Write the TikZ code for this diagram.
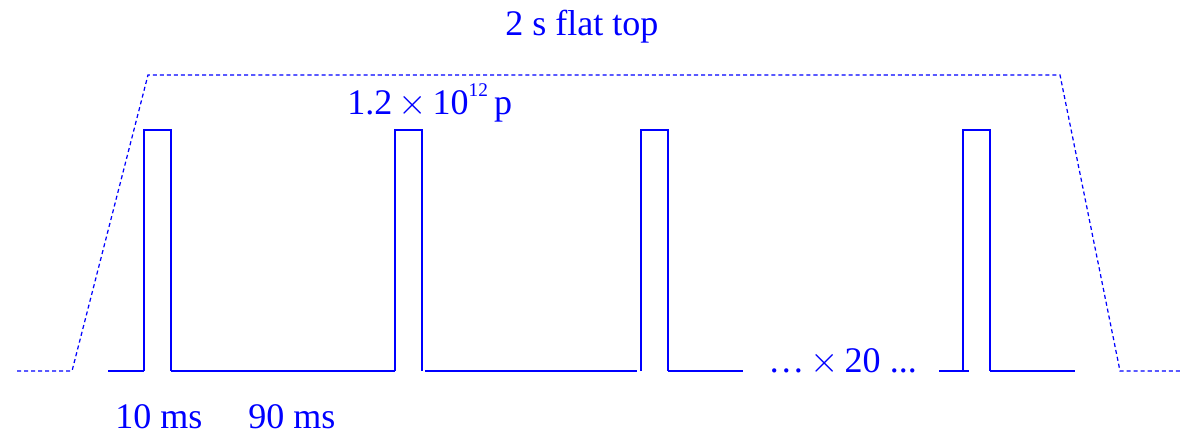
\documentclass[tikz,border=0pt]{standalone}
\usepackage{fontspec}
\setmainfont{Liberation Serif}
\usepackage{tikz}
\usetikzlibrary{positioning, calc}
\definecolor{PulseBlue}{RGB}{0,0,255}

\begin{document}
\begin{tikzpicture}[
  x=0.02cm, y=-0.02cm,
  wave/.style={draw=PulseBlue, line width=0.7pt},
  ramp/.style={draw=PulseBlue, line width=0.7pt, dash pattern=on 2.3pt off 1.7pt},
  lbl/.style={text=PulseBlue, anchor=base west, inner sep=0pt, font=\fontsize{20.5}{24}\selectfont}
]
\useasboundingbox (0,0) rectangle (1185,432);

% spill envelope
\coordinate (envA) at (17,371);
\coordinate (envB) at (72,371);
\coordinate (envC) at (148,75);
\coordinate (envD) at (1060,75);
\coordinate (envE) at (1120,371);
\coordinate (envF) at (1182,371);
\draw[ramp] (envA) -- (envB) -- (envC) -- (envD) -- (envE) -- (envF);

% single pulses
\foreach \px in {144,395,641,963}{
  \draw[wave] (\px,371) -- (\px,130) -- ({\px+27},130) -- ({\px+27},371);
}

% baseline between pulses
\draw[wave] (108,371) -- (144,371);
\draw[wave] (171,371) -- (395,371);
\draw[wave] (425,371) -- (637,371);
\draw[wave] (668,371) -- (743,371);
\draw[wave] (939,371) -- (969,371);
\draw[wave] (990,371) -- (1075,371);

% labels
\node[lbl] (flattop) at (505,36) {2 s flat top};
\node[lbl] (intensity) at (347,115) {1.2\,$\times$\,10\raisebox{0.5em}{\fontsize{11}{11}\selectfont 12}\,p};
\node[lbl] (repeat) at (768,372) {…\,$\times$\,20 ...};
\node[lbl] (width) at (115,428) {10 ms};
\node[lbl] (period) at (248,428) {90 ms};
\end{tikzpicture}
\end{document}
